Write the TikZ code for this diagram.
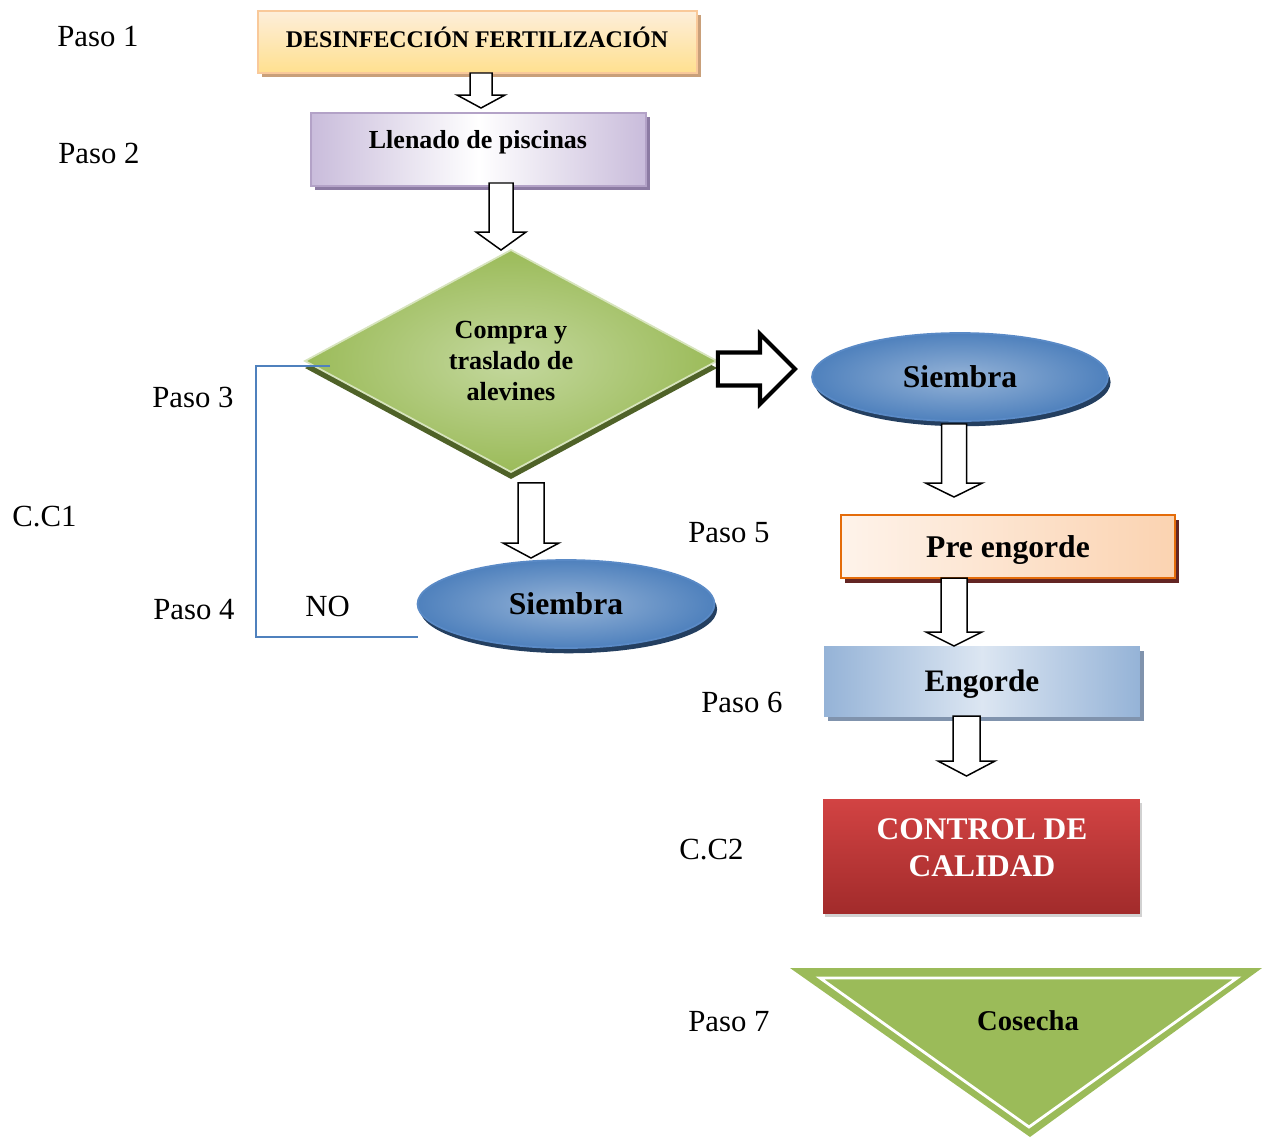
\documentclass[tikz,border=0pt]{standalone}
\usepackage{fontspec}
\setmainfont{Liberation Serif}
\usetikzlibrary{shapes.geometric,shadows,calc}
\definecolor{bonetop}{HTML}{FDEEDA}
\definecolor{bonebot}{HTML}{FFE08F}
\definecolor{boneedge}{HTML}{F9C99A}
\definecolor{boneshad}{HTML}{C9A07A}
\definecolor{btwoside}{HTML}{C9BCDB}
\definecolor{btwoedge}{HTML}{B3A2C7}
\definecolor{btwoshad}{HTML}{8C7BA3}
\definecolor{diain}{HTML}{C4D89E}
\definecolor{diaout}{HTML}{9BBB59}
\definecolor{diaedge}{HTML}{D7E4BD}
\definecolor{diashad}{HTML}{4F6228}
\definecolor{ellin}{HTML}{95B3D7}
\definecolor{ellout}{HTML}{4F81BD}
\definecolor{elledge}{HTML}{5A8AC6}
\definecolor{ellshad}{HTML}{243F60}
\definecolor{preleft}{HTML}{FEF3EA}
\definecolor{preright}{HTML}{FBD3B1}
\definecolor{preedge}{HTML}{E46C0A}
\definecolor{preshad}{HTML}{632523}
\definecolor{engside}{HTML}{95B3D7}
\definecolor{engmid}{HTML}{DCE6F2}
\definecolor{engshad}{HTML}{8093AD}
\definecolor{ctltop}{HTML}{D24343}
\definecolor{ctlbot}{HTML}{A22B2B}
\definecolor{trigreen}{HTML}{9BBB59}
\definecolor{linkblue}{HTML}{4F81BD}
% hollow block arrow pointing down: from, to, xc, shaft hw, head hw, head len, start gap, end gap (px)
\newcommand\blockdown[8]{%
  \draw[hollow] let \p1=(#1.south), \p2=(#2.north) in
   ({(#3-#4)*0.02cm},{\y1-(#7)*0.02cm}) --
   ({(#3-#4)*0.02cm},{\y2+(#8+#6)*0.02cm}) --
   ({(#3-#5)*0.02cm},{\y2+(#8+#6)*0.02cm}) --
   ({#3*0.02cm},{\y2+(#8)*0.02cm}) --
   ({(#3+#5)*0.02cm},{\y2+(#8+#6)*0.02cm}) --
   ({(#3+#4)*0.02cm},{\y2+(#8+#6)*0.02cm}) --
   ({(#3+#4)*0.02cm},{\y1-(#7)*0.02cm}) -- cycle;}
\begin{document}
\begin{tikzpicture}[x=0.02cm,y=-0.02cm,
  lbl/.style={font=\fontsize{17.5}{21}\selectfont, inner sep=0pt, anchor=west},
  hollow/.style={draw=black, fill=white, line width=0.85pt, line join=miter},
  bx/.style={rectangle, inner sep=0pt, outer sep=0pt},
  txt/.style={inner sep=0pt, align=center}]
\useasboundingbox (0,0) rectangle (1262,1137);

% step labels
\node[lbl] (l1) at (57,36) {Paso 1};
\node[lbl] (l2) at (58,153) {Paso 2};
\node[lbl] (l3) at (152,397) {Paso 3};
\node[lbl] (lcc1) at (12,517) {C.C1};
\node[lbl] (l4) at (153,610) {Paso 4};
\node[lbl] (lno) at (305,606) {NO};
\node[lbl] (l5) at (688,533) {Paso 5};
\node[lbl] (l6) at (701,702) {Paso 6};
\node[lbl] (lcc2) at (679,850) {C.C2};
\node[lbl] (l7) at (688,1022) {Paso 7};

% box 1
\node[bx, minimum width=8.78cm, minimum height=1.24cm, top color=bonetop, bottom color=bonebot,
  draw=boneedge, line width=1pt,
  drop shadow={shadow xshift=2.3pt, shadow yshift=-2.3pt, fill=boneshad, opacity=1}] (b1) at (477.5,42) {};
\node[txt, font=\bfseries\fontsize{13.6}{16}\selectfont] (b1t) at (477,37) {DESINFECCIÓN FERTILIZACIÓN};

% box 2
\node[bx, minimum width=6.70cm, minimum height=1.46cm, left color=btwoside, right color=btwoside, middle color=white,
  draw=btwoedge, line width=1pt,
  drop shadow={shadow xshift=2.3pt, shadow yshift=-2.3pt, fill=btwoshad, opacity=1}] (b2) at (478.5,149.5) {};
\node[txt, font=\bfseries\fontsize{14.8}{17}\selectfont] (b2t) at (478,142) {Llenado de piscinas};

% diamond
\node[shape=diamond, minimum width=8.24cm, minimum height=4.44cm, inner sep=0pt, outer sep=0pt,
  inner color=diain, outer color=diaout, draw=diaedge, line width=1pt,
  drop shadow={shadow xshift=0pt, shadow yshift=-4pt, fill=diashad, opacity=1},
  align=center, font=\bfseries\fontsize{14.9}{17.4}\selectfont] (dia) at (511,361) {Compra y\\traslado de\\alevines};

% ellipses
\node[shape=ellipse, minimum width=5.92cm, minimum height=1.76cm, inner sep=0pt, outer sep=0pt,
  inner color=ellin, outer color=ellout, draw=elledge, line width=1pt,
  drop shadow={shadow xshift=1.5pt, shadow yshift=-3pt, fill=ellshad, opacity=1},
  font=\bfseries\fontsize{18}{21}\selectfont] (sieR) at (960,377) {Siembra};
\node[shape=ellipse, minimum width=5.94cm, minimum height=1.76cm, inner sep=0pt, outer sep=0pt,
  inner color=ellin, outer color=ellout, draw=elledge, line width=1pt,
  drop shadow={shadow xshift=1.5pt, shadow yshift=-3pt, fill=ellshad, opacity=1},
  font=\bfseries\fontsize{18}{21}\selectfont] (sieL) at (566,604) {Siembra};

% pre engorde
\node[bx, minimum width=6.68cm, minimum height=1.26cm, left color=preleft, right color=preright,
  draw=preedge, line width=1.3pt, text depth=0pt,
  drop shadow={shadow xshift=2.3pt, shadow yshift=-2.8pt, fill=preshad, opacity=1},
  font=\bfseries\fontsize{18}{21}\selectfont] (pre) at (1008,546.5) {Pre engorde};

% engorde
\node[bx, minimum width=6.32cm, minimum height=1.40cm, left color=engside, right color=engside, middle color=engmid,
  text depth=0pt,
  drop shadow={shadow xshift=2.3pt, shadow yshift=-2.8pt, fill=engshad, opacity=1},
  font=\bfseries\fontsize{17.8}{21}\selectfont] (eng) at (982,681) {Engorde};

% control de calidad
\node[bx, minimum width=6.34cm, minimum height=2.28cm, top color=ctltop, bottom color=ctlbot,
  drop shadow={shadow xshift=1pt, shadow yshift=-2pt, fill=black!30, opacity=0.6}] (ctl) at (981.5,856) {};
\node[txt, text=white, font=\bfseries\fontsize{17.9}{21}\selectfont] (ctlt) at (982,848) {CONTROL DE\\CALIDAD};

% cosecha triangle
\fill[trigreen] (790,968) -- (1262,968) -- (1030,1137) -- cycle;
\draw[white, line width=1.6pt, line join=miter] (820,978) -- (1237,978) -- (1029,1127) -- cycle;
\node[txt, font=\bfseries\fontsize{16.3}{19}\selectfont] (cos) at (1028,1021) {Cosecha};

% hollow down arrows
\blockdown{b1}{b2}{481}{11}{24}{13}{0}{5}
\blockdown{b2}{dia}{501}{12}{25}{18}{-3}{0}
\blockdown{dia}{sieL}{531}{13}{28}{15}{11}{2}
\blockdown{sieR}{pre}{954}{12.5}{28.5}{14}{3}{18}
\blockdown{pre}{eng}{954}{13}{28}{14}{0}{0}
\blockdown{eng}{ctl}{966.5}{13.5}{28.5}{15}{0}{23}

% thick right arrow
\draw[hollow, line width=2.3pt] let \p1=(dia.east), \p2=(sieR.west), \n1={(\y1+\y2)/2} in
  ({\x1+1*0.02cm},{\n1+16.5*0.02cm}) -- ({760*0.02cm},{\n1+16.5*0.02cm}) --
  ({760*0.02cm},{\n1+35*0.02cm}) -- ({\x2-17*0.02cm},\n1) --
  ({760*0.02cm},{\n1-35*0.02cm}) -- ({760*0.02cm},{\n1-16.5*0.02cm}) --
  ({\x1+1*0.02cm},{\n1-16.5*0.02cm}) -- cycle;

% blue NO connector
\draw[linkblue, line width=0.9pt] ($(dia.west)+(25,5)$) -- ++(-74,0) |- ($(sieL.west)+(0,33)$);
\end{tikzpicture}
\end{document}
